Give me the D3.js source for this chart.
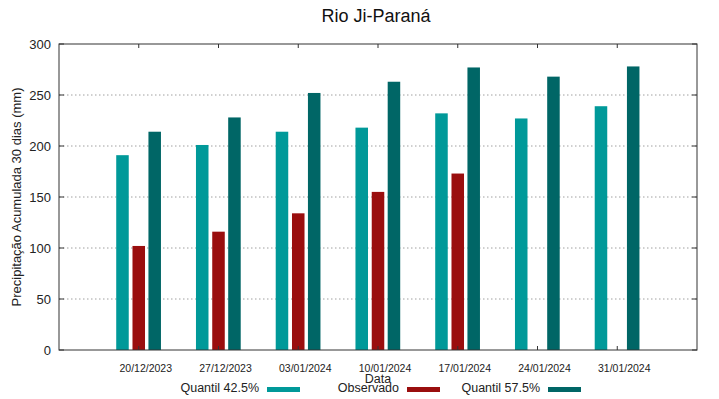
<!DOCTYPE html>
<html>
<head>
<meta charset="utf-8">
<script src="https://cdn.jsdelivr.net/npm/d3@7"></script>
<style>
  body { margin: 0; background: #fff; }
  svg { display: block; font-family: "Liberation Sans", Arial, sans-serif; }
  .grid line { stroke: #a0a0a0; stroke-width: 1; stroke-dasharray: 1.5 2.5; }
</style>
</head>
<body>
<svg id="chart" width="719" height="399"></svg>
<script>
// chart data
const dates = ["20/12/2023", "27/12/2023", "03/01/2024", "10/01/2024", "17/01/2024", "24/01/2024", "31/01/2024"];
const quantil425 = [191, 201, 214, 218, 232, 227, 239];
const observado = [102, 116, 134, 155, 173, null, null];
const quantil575 = [214, 228, 252, 263, 277, 268, 278];
const yTicks = [0, 50, 100, 150, 200, 250, 300];

const seriesNames = ["Quantil 42.5%", "Observado", "Quantil 57.5%"];
const seriesColors = ["#009999", "#9a0e0e", "#006666"];
const seriesValues = [quantil425, observado, quantil575];

const svg = d3.select("#chart");
const margin = { left: 59, right: 22, top: 44, bottom: 49 };
const width = 719, height = 399;
const plotW = width - margin.left - margin.right;
const plotH = height - margin.top - margin.bottom;

// x in "slot" units: categories at 1..7, range 0..8
const x = d3.scaleLinear().domain([0, dates.length + 1]).range([margin.left, margin.left + plotW]);
const y = d3.scaleLinear().domain([0, 300]).range([margin.top + plotH, margin.top]);

const barW = 0.157;    // in x units
const offsets = [-0.204, 0, 0.2];

// grid
svg.append("g").attr("class", "grid")
  .selectAll("line")
  .data(yTicks.filter(t => t > 0 && t < 300))
  .join("line")
  .attr("x1", x(0)).attr("x2", x(dates.length + 1))
  .attr("y1", d => y(d)).attr("y2", d => y(d));

// bars
seriesValues.forEach((vals, s) => {
  svg.append("g")
    .selectAll("rect")
    .data(vals.map((v, i) => ({ v, i })).filter(d => d.v != null))
    .join("rect")
    .attr("x", d => x(d.i + 1 + offsets[s] - barW / 2))
    .attr("width", x(barW) - x(0))
    .attr("y", d => y(d.v))
    .attr("height", d => y(0) - y(d.v))
    .attr("fill", seriesColors[s]);
});

// axes (gnuplot style: inward ticks, mirrored)
const tickLen = 5;
const axisG = svg.append("g");
yTicks.forEach(t => {
  axisG.append("line").attr("x1", x(0)).attr("x2", x(0) + tickLen)
    .attr("y1", y(t)).attr("y2", y(t)).attr("stroke", "#333");
  axisG.append("line").attr("x1", x(dates.length + 1)).attr("x2", x(dates.length + 1) - tickLen)
    .attr("y1", y(t)).attr("y2", y(t)).attr("stroke", "#333");
  axisG.append("text").attr("x", x(0) - 8).attr("y", y(t)).attr("dy", "0.35em")
    .attr("text-anchor", "end").attr("font-size", 13).attr("fill", "#222").text(t);
});
dates.forEach((d, i) => {
  axisG.append("line").attr("x1", x(i + 1)).attr("x2", x(i + 1))
    .attr("y1", y(0)).attr("y2", y(0) - 4).attr("stroke", "#333");
  axisG.append("line").attr("x1", x(i + 1)).attr("x2", x(i + 1))
    .attr("y1", y(300)).attr("y2", y(300) + 4).attr("stroke", "#333");
  axisG.append("text").attr("x", x(i + 1) + 7).attr("y", 368).attr("dy", "0.35em")
    .attr("text-anchor", "middle").attr("font-size", 10.5).attr("fill", "#222").text(d);
});

svg.append("rect")
  .attr("x", x(0)).attr("y", y(300))
  .attr("width", plotW).attr("height", plotH)
  .attr("fill", "none").attr("stroke", "#333").attr("stroke-width", 1);

// titles
svg.append("text").attr("x", 376).attr("y", 22).attr("text-anchor", "middle")
  .attr("font-size", 18).attr("fill", "#111").text("Rio Ji-Paraná");
svg.append("text").attr("transform", "translate(21,197) rotate(-90)")
  .attr("text-anchor", "middle").attr("font-size", 13).attr("fill", "#222")
  .text("Precipitação Acumulada 30 dias (mm)");
svg.append("text").attr("x", 378).attr("y", 379).attr("dy", "0.35em")
  .attr("text-anchor", "middle").attr("font-size", 12.5).attr("fill", "#222").text("Data");

// legend
const legendEnds = [259, 399, 540];
seriesNames.forEach((name, s) => {
  svg.append("text").attr("x", legendEnds[s]).attr("y", 387.5).attr("dy", "0.35em")
    .attr("text-anchor", "end").attr("font-size", 12.5).attr("fill", "#222").text(name);
  svg.append("rect").attr("x", legendEnds[s] + 8).attr("y", 387)
    .attr("width", 33).attr("height", 5).attr("fill", seriesColors[s]);
});
</script>
</body>
</html>
